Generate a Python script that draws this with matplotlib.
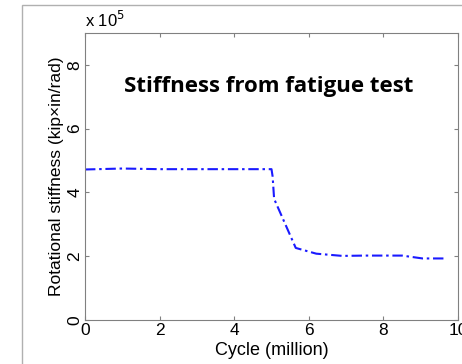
import matplotlib
matplotlib.use("Agg")
import matplotlib.pyplot as plt
from matplotlib.patches import Rectangle

# Data (cycle in million, stiffness in units of 1e5 kip*in/rad)
cycles = [0.0, 1.0, 2.0, 3.0, 4.0, 5.0, 5.03, 5.07, 5.65, 6.2, 6.9, 7.5, 8.5, 9.05, 9.7]
stiffness = [4.72, 4.75, 4.73, 4.73, 4.73, 4.73, 4.5, 3.80, 2.26, 2.08, 2.01, 2.02, 2.02, 1.93, 1.93]
xticks = [0, 2, 4, 6, 8, 10]
yticks = [0, 2, 4, 6, 8]

W, H = 462, 364
fig = plt.figure(figsize=(W / 100, H / 100), dpi=100)
fig.patch.set_facecolor("white")

# outer frame (left & top visible)
fig.patches.append(Rectangle((22 / W, -0.1), 1.2, 1 - 5 / H + 0.1, transform=fig.transFigure,
                             fill=False, edgecolor="#b0b0b0", linewidth=1.0))

ax = fig.add_axes([85 / W, 1 - 320 / H, (458 - 85) / W, (320 - 33) / H])
ax.plot(cycles, stiffness, color="#1a1aff", linestyle=(0, (5, 1.8, 1.2, 1.8)), linewidth=1.5)
ax.set_xlim(0, 10)
ax.set_ylim(0, 9)
ax.set_xticks(xticks)
ax.set_yticks(yticks)
ax.set_xticklabels([str(t) for t in xticks], fontfamily="Liberation Sans", fontsize=12.5)
ax.set_yticklabels([str(t) for t in yticks], fontfamily="Liberation Sans", fontsize=12.5, rotation=90, va="center")
ax.tick_params(direction="in", length=3, top=True, right=True, color="#808080", pad=2)
for s in ax.spines.values():
    s.set_color("#808080")
    s.set_linewidth(0.8)
ax.set_xlabel("Cycle (million)", fontfamily="Liberation Sans", fontsize=13, labelpad=0)
ax.xaxis.set_label_coords(0.5, -0.075)
ax.xaxis.label.set_va("top")
ax.set_ylabel("Rotational stiffness (kip×in/rad)", fontfamily="Liberation Sans", fontsize=12.5, labelpad=2)
ax.text(0.0, 1.01, "x 10$^5$", transform=ax.transAxes, fontfamily="Liberation Sans", fontsize=12,
        ha="left", va="bottom")
ax.text(0.492, 0.815, "Stiffness from fatigue test", transform=ax.transAxes, fontfamily="Open Sans",
        fontweight="bold", fontsize=16, ha="center", va="center")

fig.savefig("out.png", dpi=100)
